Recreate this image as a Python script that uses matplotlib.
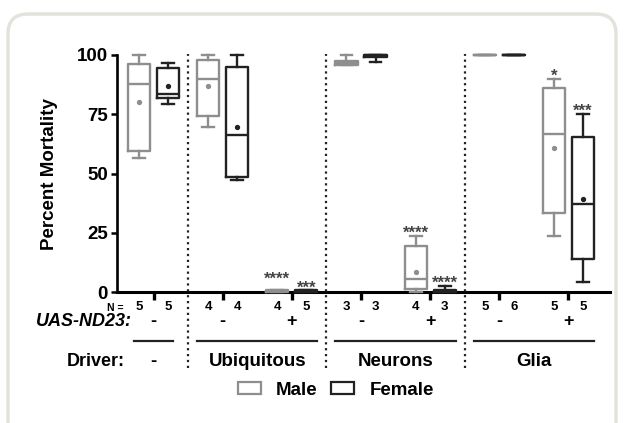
import matplotlib
matplotlib.use('Agg')
import matplotlib.pyplot as plt
from matplotlib.patches import FancyBboxPatch, Patch

plt.rcParams['font.family'] = ['Liberation Sans', 'DejaVu Sans']
plt.rcParams['font.weight'] = 'bold'

# conditions: no driver, Ubiquitous -/+, Neurons -/+, Glia -/+
uas_signs = ['-', '-', '+', '-', '+', '-', '+']
drivers = ['-', 'Ubiquitous', 'Neurons', 'Glia']

# box statistics (percent mortality)
male_whislo = [56.7, 69.8, 0.0, 95.8, 0.0, 100, 23.9]
male_q1 = [59.7, 74.4, 0.0, 95.8, 1.2, 100, 33.5]
male_med = [87.8, 89.9, 0.5, 96.5, 5.6, 100, 66.7]
male_q3 = [96.1, 97.9, 0.9, 97.3, 19.5, 100, 86.2]
male_whishi = [100, 100, 0.9, 100, 23.7, 100, 89.8]
male_mean = [80.1, 87.1, 0.5, 96.5, 8.7, 100, 61.0]

female_whislo = [79.2, 47.3, 0.0, 97.0, 0.0, 100, 4.5]
female_q1 = [81.7, 48.7, 0.0, 99.3, 0.0, 100, 14.0]
female_med = [83.4, 66.3, 0.5, 100, 0.3, 100, 37.1]
female_q3 = [94.7, 94.8, 0.9, 100, 0.8, 100, 65.6]
female_whishi = [96.8, 100, 0.9, 100, 2.6, 100, 75.0]
female_mean = [86.8, 69.8, 0.5, 99.5, 0.5, 100, 39.2]

male_n = [5, 4, 4, 3, 4, 5, 5]
female_n = [5, 4, 5, 3, 3, 6, 5]

# significance stars: (condition, sex, text, height)
stars = [(2, 'm', '****', 7.7), (2, 'f', '***', 3.9),
         (4, 'm', '****', 27.2), (4, 'f', '****', 5.9),
         (6, 'm', '*', 93.3), (6, 'f', '***', 78.6)]

gray = '#8e8e8e'
dark = '#222222'
off = 0.21

fig = plt.figure(figsize=(6.24, 4.23), dpi=100)
fig.add_artist(FancyBboxPatch((8, -40), 608, 449, boxstyle='round,pad=0,rounding_size=20',
                              transform=None, facecolor='white', edgecolor='#e4e2dc',
                              linewidth=2.5, zorder=0))
ax = fig.add_axes([0.1875, 0.309, 0.790, 0.561])
ax.set_facecolor('none')


def make_stats(lo, q1, med, q3, hi):
    return [dict(whislo=lo[i], q1=q1[i], med=med[i], q3=q3[i], whishi=hi[i], fliers=[])
            for i in range(len(lo))]


series = [(make_stats(male_whislo, male_q1, male_med, male_q3, male_whishi), male_mean, male_q1, male_q3, -1, gray),
          (make_stats(female_whislo, female_q1, female_med, female_q3, female_whishi), female_mean, female_q1, female_q3, 1, dark)]
for stats, means, q1, q3, sign, col in series:
    pos = [i + sign * off for i in range(7)]
    lp = dict(color=col, linewidth=1.7)
    ax.bxp(stats, positions=pos, widths=0.32, capwidths=0.17,
           boxprops=lp, whiskerprops=lp, capprops=lp, medianprops=lp,
           manage_ticks=False)
    # mean dots, only where the box is open
    mx = [p for p, a, b in zip(pos, q1, q3) if b - a > 1]
    my = [m for m, a, b in zip(means, q1, q3) if b - a > 1]
    ax.plot(mx, my, 'o', color=col, markersize=2.8, linestyle='none')
for a in ax.get_children():
    if hasattr(a, 'set_clip_on'):
        a.set_clip_on(False)

ax.set_xlim(-0.528, 6.6)
ax.set_ylim(0, 100)
ax.set_yticks([0, 25, 50, 75, 100])
ax.set_xticks(range(7))
ax.set_xticklabels([])
ax.tick_params(axis='y', length=4.5, width=1.8, labelsize=13.5, pad=2)
ax.tick_params(axis='x', length=5.5, width=2.4)
for s in ['top', 'right']:
    ax.spines[s].set_visible(False)
ax.spines['left'].set_linewidth(1.9)
ax.spines['bottom'].set_linewidth(2.2)
ax.spines['left'].set_zorder(1)
ax.spines['bottom'].set_zorder(1)
ax.set_ylabel('Percent Mortality', fontsize=13.5, fontweight='bold')
ax.yaxis.set_label_coords(-0.12, 0.5)

# group separators
for xs in [0.5, 2.5, 4.5]:
    ax.plot([xs, xs], [-32, 100.5], color=dark, linestyle=':', linewidth=1.6, clip_on=False)

# stars
for i, sx, txt, y in stars:
    x = i - off if sx == 'm' else i + off
    ax.text(x, y - 4.2, txt, ha='center', va='baseline', fontsize=12, color='#444444')

# N row
ax.text(-0.557, -6.6, 'N =', ha='center', va='center', fontsize=7.5)
for i in range(7):
    ax.text(i - off, -6.1, str(male_n[i]), ha='center', va='center', fontsize=9.5)
    ax.text(i + off, -6.1, str(female_n[i]), ha='center', va='center', fontsize=9.5)

# UAS-ND23 row
ax.text(-0.31, -12.5, 'UAS-ND23:', ha='right', va='center', fontsize=13, style='italic')
for i, s in enumerate(uas_signs):
    ax.text(i, -12.5, s, ha='center', va='center', fontsize=13)

# driver row
centres = [0, 1.5, 3.5, 5.5]
halfw = [0.28, 0.87, 0.87, 0.87]
for c, h, d in zip(centres, halfw, drivers):
    ax.plot([c - h, c + h], [-20.5, -20.5], color=dark, linewidth=1.6, clip_on=False)
    ax.text(c, -29, d, ha='center', va='center', fontsize=13.5)
ax.text(-0.41, -29, 'Driver:', ha='right', va='center', fontsize=13)

handles = [Patch(facecolor='white', edgecolor=gray, linewidth=1.6, label='Male'),
           Patch(facecolor='white', edgecolor=dark, linewidth=1.6, label='Female')]
fig.legend(handles=handles, loc='center', bbox_to_anchor=(0.538, 0.078), ncol=2, frameon=False,
           fontsize=13.5, handlelength=1.25, handleheight=0.55, handletextpad=0.8, columnspacing=0.7)

fig.savefig('out.png', dpi=100)
